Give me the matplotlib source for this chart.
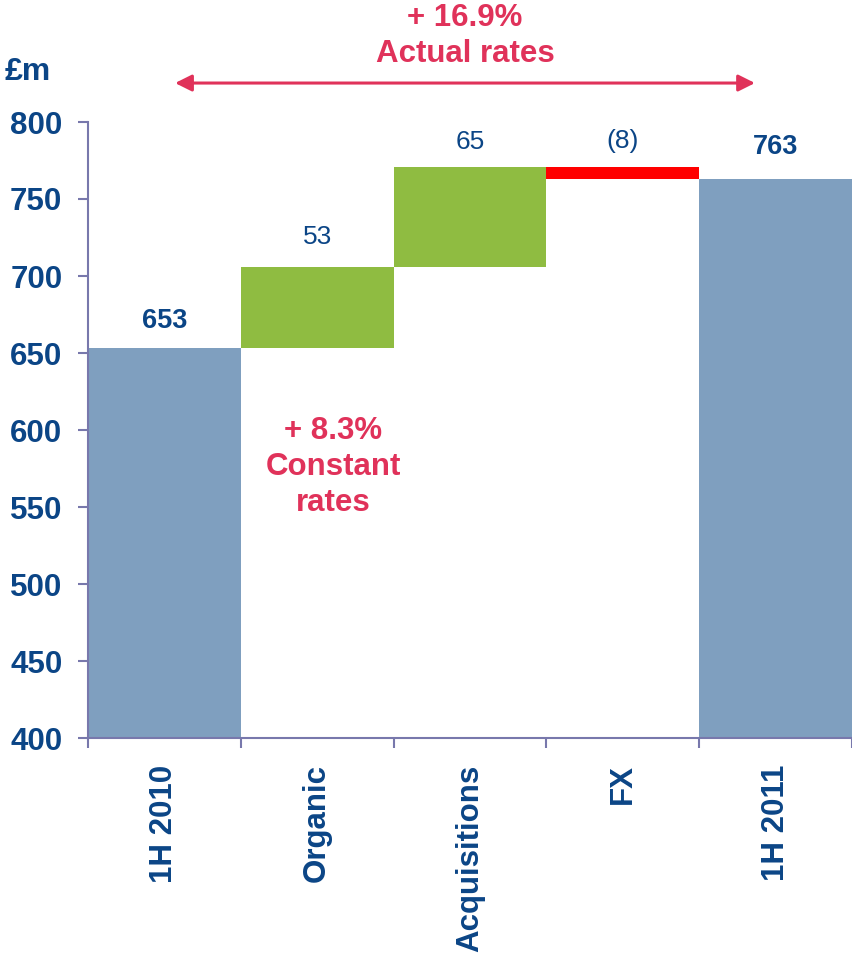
import matplotlib
matplotlib.use("Agg")
import matplotlib.pyplot as plt
import numpy as np

plt.rcParams['font.family'] = ['Liberation Sans', 'DejaVu Sans']

categories = ['1H 2010', 'Organic', 'Acquisitions', 'FX', '1H 2011']
values = [653, 53, 65, -8, 763]
is_total = [True, False, False, False, True]
value_labels = ['653', '53', '65', '(8)', '763']
y_ticks = [400, 450, 500, 550, 600, 650, 700, 750, 800]
actual_text = '+ 16.9%\nActual rates'
constant_text = '+ 8.3%\nConstant\nrates'

NAVY = '#0B4586'
BLUE = '#7F9FBF'
GREEN = '#8FBC41'
RED = '#FF0000'
PINK = '#E0325A'
AXC = '#7878AC'

fig = plt.figure(figsize=(8.52, 9.55), dpi=100)
ax = fig.add_axes([88/852, 1-738/955, 764/852, (738-122)/955])

x = np.arange(len(categories))
running = 0
tops = []
for i, (v, tot) in enumerate(zip(values, is_total)):
    if tot:
        bottom, height = 0, v
        color = BLUE
        running = v
    else:
        bottom = running if v >= 0 else running + v
        height = abs(v)
        color = GREEN if v >= 0 else RED
        running += v
    ax.bar(x[i], height, bottom=bottom, width=1.0, color=color, linewidth=0, zorder=2)
    tops.append(bottom + height)

label_offsets = [10, 13, 9, 10, 14]  # points above bar top
for i, (lab, tot) in enumerate(zip(value_labels, is_total)):
    ax.annotate(lab, (x[i], tops[i]), xytext=(0, label_offsets[i]),
                textcoords='offset points', ha='center', va='bottom',
                fontsize=19.5 if tot else 19, fontweight='bold' if tot else 'normal',
                color=NAVY, annotation_clip=False)

ax.set_xlim(-0.5, len(categories) - 0.5)
ax.set_ylim(400, 800)
ax.set_yticks(y_ticks)
ax.set_yticklabels([str(t) for t in y_ticks], fontsize=22.5, fontweight='bold', color=NAVY)
ax.set_xticks(np.arange(-0.5, len(categories)), minor=False)
ax.set_xticklabels([])
ax.set_xticks(x, minor=True)
ax.set_xticklabels(categories, minor=True, rotation=90, fontsize=22.5,
                   fontweight='bold', color=NAVY, va='top', ha='center')
ax.tick_params(axis='x', which='minor', length=0, pad=19)
ax.tick_params(axis='x', which='major', length=7.5, width=1.5, color=AXC, direction='out')
ax.tick_params(axis='y', length=7.5, width=1.5, color=AXC, direction='out', pad=11)

for s in ['top', 'right']:
    ax.spines[s].set_visible(False)
for s in ['left', 'bottom']:
    ax.spines[s].set_color(AXC)
    ax.spines[s].set_linewidth(1.5)
    ax.spines[s].set_zorder(3)

# Arrow for actual rates
ax.annotate('', xy=(0.07, 825.3), xytext=(3.865, 825.3), xycoords='data',
            arrowprops=dict(arrowstyle='<|-|>,head_length=1.0,head_width=0.5',
                            color=PINK, lw=2.2, shrinkA=0, shrinkB=0),
            annotation_clip=False)
ax.text((0.07 + 3.865) / 2, 856, actual_text, ha='center', va='center',
        fontsize=22.5, fontweight='bold', color=PINK, linespacing=1.27, clip_on=False)
ax.text(1.103, 576, constant_text, ha='center', va='center',
        fontsize=22.5, fontweight='bold', color=PINK, linespacing=1.27)

fig.text(5/852, 1-72/955, '£m', ha='left', va='center', fontsize=23,
         fontweight='bold', color=NAVY)

fig.savefig('out.png', dpi=100)
